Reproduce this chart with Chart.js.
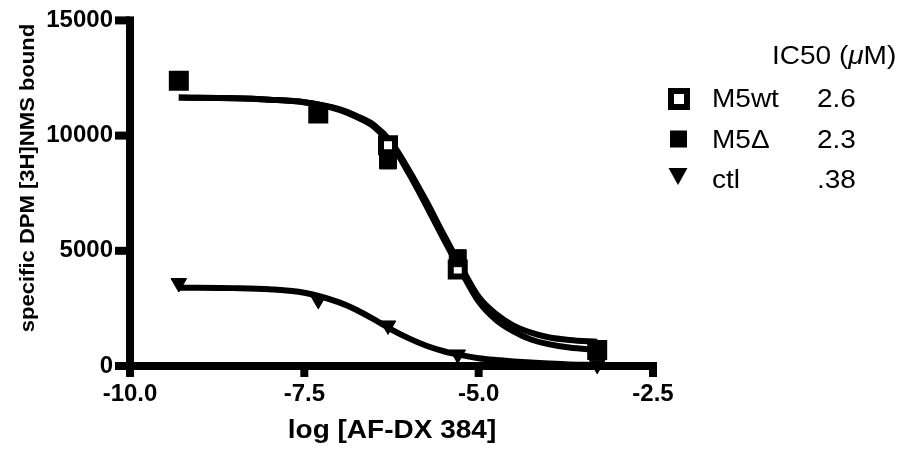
<!DOCTYPE html>
<html>
<head>
<meta charset="utf-8">
<script src="https://cdn.jsdelivr.net/npm/chart.js@4.4.0/dist/chart.umd.min.js"></script>
<style>
  html, body { margin: 0; padding: 0; background: #fff; }
  #wrap { width: 907px; height: 451px; position: relative; }
</style>
</head>
<body>
<div id="wrap"><canvas id="c" width="907" height="451"></canvas></div>
<script>
// ---- data ----
const doseX = [-9.3, -7.3, -6.3, -5.3, -3.3];
const m5wtY = [12380, 10960, 9580, 4190, 690];
const m5dY  = [12380, 10960, 8920, 4680, 690];
const ctlY  = [3600, 2870, 1760, 500, 50];

const fitX    = [-9.3, -8.5, -8.0, -7.5, -7.0, -6.75, -6.5, -6.25, -6.0, -5.75, -5.5, -5.25, -5.0, -4.75, -4.5, -4.25, -4.0, -3.7, -3.3];
const m5wtFit = [11650, 11620, 11560, 11450, 11150, 10850, 10450, 9700, 8500, 7150, 5700, 4300, 3000, 2250, 1750, 1450, 1250, 1130, 1050];
const m5dFit  = [11650, 11620, 11560, 11450, 11120, 10800, 10380, 9600, 8350, 6950, 5500, 4100, 2800, 2000, 1500, 1150, 950, 800, 700];
const ctlFit  = [3400, 3380, 3330, 3180, 2760, 2430, 2020, 1580, 1200, 880, 640, 470, 340, 260, 200, 150, 110, 70, 40];

const seriesNames = ['M5wt', 'M5\u0394', 'ctl'];
const ic50Values  = ['2.6', '2.3', '.38'];
const xTicks = [-10, -7.5, -5, -2.5];
const yTicks = [0, 5000, 10000, 15000];
const xTitle = 'log [AF-DX 384]';
const yTitle = 'specific DPM [3H]NMS bound';

// ---- build ----
const pts = (xs, ys) => xs.map((x, i) => ({ x: x, y: ys[i] }));
const FONT = "'Liberation Sans', Arial, Helvetica, sans-serif";

function stext(ctx, s, x, y, font, align, sx) {
  ctx.save();
  ctx.font = font;
  ctx.translate(x, y);
  ctx.scale(sx, 1);
  ctx.textAlign = align;
  ctx.textBaseline = 'alphabetic';
  ctx.fillStyle = '#000';
  ctx.fillText(s, 0, 0);
  ctx.restore();
}

const axes = {
  id: 'axes',
  beforeDatasetsDraw(chart) {
    const ctx = chart.ctx, a = chart.chartArea, xs = chart.scales.x, ys = chart.scales.y;
    const T = 8;
    ctx.save();
    ctx.fillStyle = '#000';
    ctx.fillRect(a.left - T / 2, a.top - T / 2, T, a.bottom - a.top + T);
    ctx.fillRect(a.left - T / 2, a.bottom - T / 2, a.right - a.left + T, T);
    xTicks.forEach(v => {
      const px = xs.getPixelForValue(v);
      ctx.fillRect(px - T / 2, a.bottom, T, 11);
    });
    yTicks.forEach(v => {
      const py = ys.getPixelForValue(v);
      ctx.fillRect(a.left - 15, py - T / 2, 15, T);
    });
    ctx.restore();
  }
};

const decor = {
  id: 'decor',
  afterDraw(chart) {
    const ctx = chart.ctx;
    // x title
    stext(ctx, xTitle, 392, 438, 'bold 25px ' + FONT, 'center', 1.12);
    // y title
    ctx.save();
    ctx.translate(34, 178);
    ctx.rotate(-Math.PI / 2);
    ctx.scale(1.13, 1);
    ctx.font = 'bold 19.5px ' + FONT;
    ctx.textAlign = 'center';
    ctx.textBaseline = 'alphabetic';
    ctx.fillStyle = '#000';
    ctx.fillText(yTitle, 0, 0);
    ctx.restore();

    // legend header: IC50 (µM)
    const lf = '25px ' + FONT;
    const lfi = 'italic 25px ' + FONT;
    const sx = 1.12;
    const hx = 772;
    ctx.save();
    ctx.font = lf;
    const w1 = ctx.measureText('IC50 (').width * sx;
    ctx.font = lfi;
    const w2 = ctx.measureText('\u03BC').width * sx;
    ctx.restore();
    stext(ctx, 'IC50 (', hx, 64, lf, 'left', sx);
    stext(ctx, '\u03BC', hx + w1, 64, lfi, 'left', sx);
    stext(ctx, 'M)', hx + w1 + w2, 64, lf, 'left', sx);

    const rows = [107, 147.5, 188];
    rows.forEach((by, i) => {
      stext(ctx, seriesNames[i], 712, by, lf, 'left', sx);
      stext(ctx, ic50Values[i], 817, by, lf, 'left', sx);
    });
    ctx.save();
    ctx.strokeStyle = '#000';
    ctx.lineWidth = 6;
    ctx.fillStyle = '#fff';
    ctx.fillRect(671, 91, 16, 16);
    ctx.strokeRect(671, 91, 16, 16);
    ctx.fillStyle = '#000';
    ctx.fillRect(670, 130.5, 17, 17);
    ctx.beginPath();
    ctx.moveTo(668.5, 168);
    ctx.lineTo(687.5, 168);
    ctx.lineTo(678, 185);
    ctx.closePath();
    ctx.fill();
    ctx.restore();
  }
};

const lineDs = (data) => ({
  type: 'line',
  data: data,
  showLine: true,
  borderColor: '#000',
  borderWidth: 6,
  pointRadius: 0,
  fill: false,
  cubicInterpolationMode: 'monotone',
  clip: false
});

new Chart(document.getElementById('c'), {
  type: 'scatter',
  data: {
    datasets: [
      { label: seriesNames[1], data: pts(doseX, m5dY), pointStyle: 'rect', pointRadius: 12, pointBorderWidth: 1,
        pointBackgroundColor: '#000', pointBorderColor: '#000', showLine: false, clip: false },
      { label: seriesNames[0], data: pts(doseX, m5wtY), pointStyle: 'rect', pointRadius: 9.9, pointBorderWidth: 6,
        pointBackgroundColor: '#fff', pointBorderColor: '#000', showLine: false, clip: false },
      { label: seriesNames[2], data: pts(doseX, ctlY), pointStyle: 'triangle', rotation: 180, pointRotation: 180, pointRadius: 9, pointBorderWidth: 1,
        pointBackgroundColor: '#000', pointBorderColor: '#000', showLine: false, clip: false },
      lineDs(pts(fitX, m5wtFit)),
      lineDs(pts(fitX, m5dFit)),
      lineDs(pts(fitX, ctlFit))
    ]
  },
  options: {
    responsive: false,
    animation: false,
    devicePixelRatio: 1,
    layout: { padding: { top: 17, right: 254, left: 0, bottom: 0 } },
    plugins: { legend: { display: false }, tooltip: { enabled: false } },
    scales: {
      x: {
        type: 'linear', min: -10, max: -2.5,
        afterFit(s) { s.height = 85; },
        afterBuildTicks(s) { s.ticks = xTicks.map(v => ({ value: v })); },
        border: { display: false },
        grid: { drawOnChartArea: false, drawTicks: true, tickLength: 11, tickColor: 'rgba(0,0,0,0)', color: 'rgba(0,0,0,0)' },
        ticks: { color: '#000', padding: 3, maxRotation: 0, font: { family: FONT, size: 24, weight: 'bold' },
                 callback: v => Number(v).toFixed(1) }
      },
      y: {
        type: 'linear', min: 0, max: 15000,
        afterFit(s) { s.width = 130; },
        afterBuildTicks(s) { s.ticks = yTicks.map(v => ({ value: v })); },
        border: { display: false },
        grid: { drawOnChartArea: false, drawTicks: true, tickLength: 11, tickColor: 'rgba(0,0,0,0)', color: 'rgba(0,0,0,0)' },
        ticks: { color: '#000', padding: 6, font: { family: FONT, size: 24, weight: 'bold' },
                 callback: v => String(v) }
      }
    }
  },
  plugins: [axes, decor]
});
</script>
</body>
</html>
